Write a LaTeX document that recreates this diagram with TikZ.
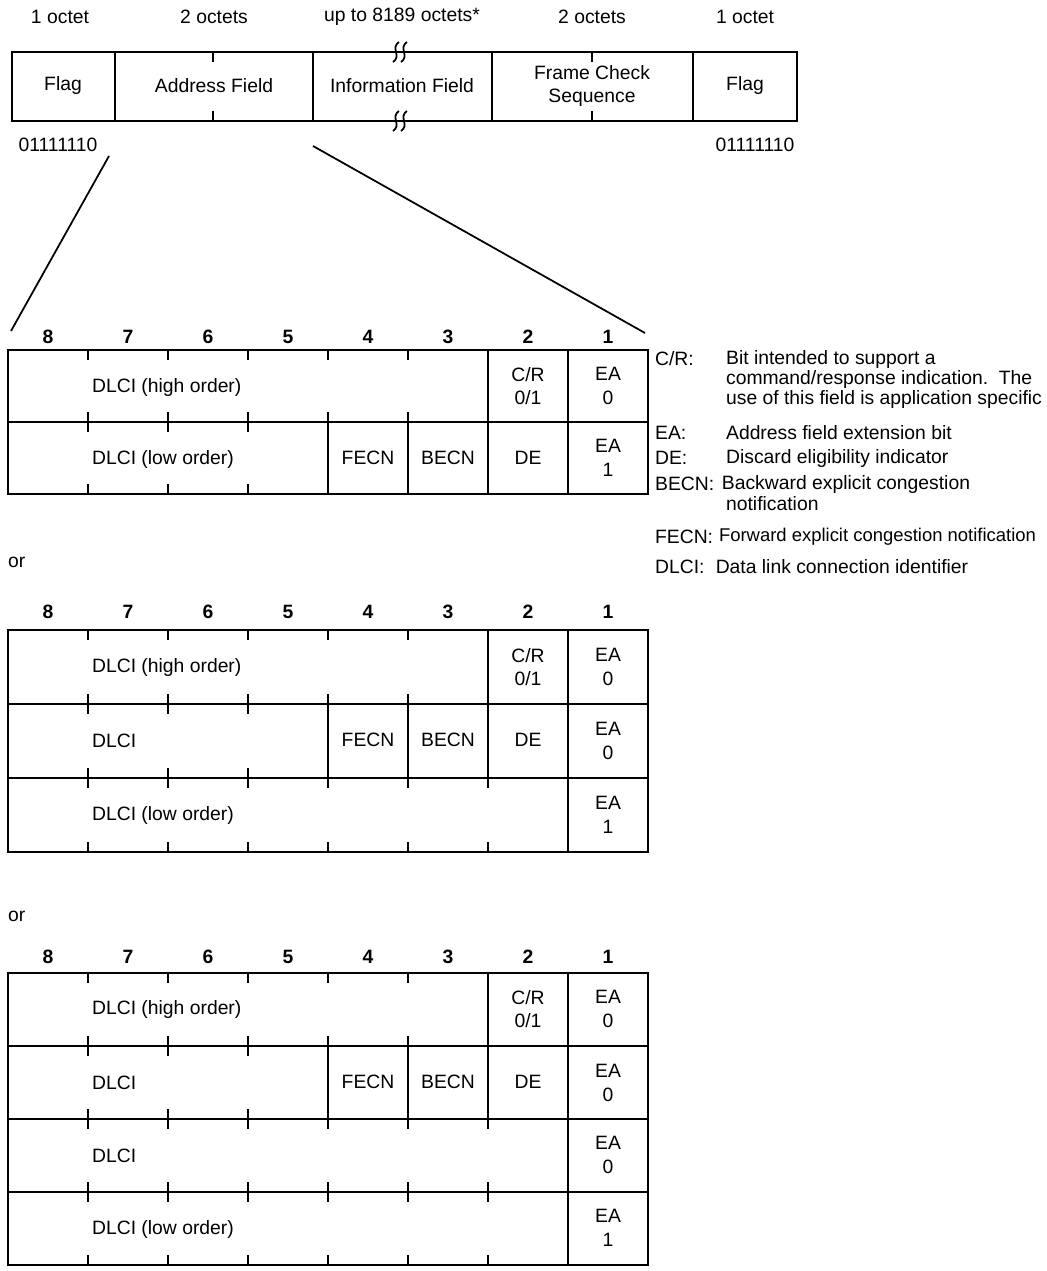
\documentclass[tikz,border=0pt]{standalone}
\usepackage{fontspec}
\setmainfont{Liberation Sans}
\usetikzlibrary{positioning,calc}

\begin{document}
\begin{tikzpicture}[x=0.02cm,y=-0.02cm,
    every node/.style={font=\fontsize{11}{13.5}\selectfont,inner sep=1pt},
    boxline/.style={line width=1.2pt},
    tickmark/.style={line width=1pt},
    bitno/.style={font=\fontsize{11}{13}\selectfont\bfseries},
    twoline/.style={align=center},
    lbl/.style={anchor=west}]
  \useasboundingbox (0,0) rectangle (1046,1271);

  % Frame format
  \node (octA) at (60,17) {1 octet};
  \node (octB) at (214,17) {2 octets};
  \node (octC) at (402,17) {up to 8189 octets*};
  \node (octD) at (592,17) {2 octets};
  \node (octE) at (745,17) {1 octet};
  \draw[boxline] (12,52) rectangle (797,121);
  \foreach \x in {115,313,492,693} \draw[boxline] (\x,52) -- (\x,121);
  \foreach \x in {213,592} {
    \draw[tickmark] (\x,52) -- ++(0,10);
    \draw[tickmark] (\x,121) -- ++(0,-10);
  }
  % break marks
  \foreach \y in {52,121} \foreach \x in {396,404}
    \draw[line width=1pt] (\x+3,\y-10) .. controls (\x-6,\y-4) and (\x+6,\y+4) .. (\x-3,\y+10);
  \node (flagA) at (63,86) {Flag};
  \node (addr) at (214,86) {Address Field};
  \node (info) at (402,86) {Information Field};
  \node[twoline] (fcs) at (592,86) {Frame Check\\Sequence};
  \node (flagB) at (745,86) {Flag};
  \node (patA) at (58,145) {01111110};
  \node (patB) at (755,145) {01111110};

  % zoom lines onto the address field
  \coordinate (zl) at (109,156);
  \coordinate (zr) at (313,146);
  \coordinate (tl) at (11,331);
  \coordinate (tr) at (645,333);
  \draw[line width=1pt] (zl) -- (tl);
  \draw[line width=1pt] (zr) -- (tr);

  % Two-octet address
  \foreach \b in {1,...,8} \node[bitno] (bA\b) at ({48+80*(8-\b)},337) {\b};
  \draw[boxline] (8,350) rectangle (648,494);
  \draw[boxline] (8,422) -- (648,422);
  \foreach \x in {488,568} \draw[boxline] (\x,350) -- (\x,422);
  \foreach \x in {328,408,488,568} \draw[boxline] (\x,422) -- (\x,494);
  \foreach \x in {88,168,248,328,408} {
    \draw[tickmark] (\x,350) -- ++(0,10);
    \draw[tickmark] (\x,422) -- ++(0,-10);
  }
  \foreach \x in {88,168,248} {
    \draw[tickmark] (\x,422) -- ++(0,10);
    \draw[tickmark] (\x,494) -- ++(0,-10);
  }
  \node[lbl] (hiA) at (90,387) {DLCI (high order)};
  \node[twoline] (crA) at (528,386) {C/R\\0/1};
  \node[twoline] (eaA1) at (608,386) {EA\\0};
  \node[lbl] (loA) at (90,459) {DLCI (low order)};
  \node (fecnA) at (368,458) {FECN};
  \node (becnA) at (448,458) {BECN};
  \node (deA) at (528,458) {DE};
  \node[twoline] (eaA2) at (608,458) {EA\\1};

  % Legend
  \node[lbl] (kCR) at (653,359) {C/R:};
  \node[lbl] (tCR1) at (724,359) {Bit intended to support a};
  \node[lbl] (tCR2) at (724,379) {command/response indication.\ \ The};
  \node[lbl] (tCR3) at (724,399) {use of this field is application specific};
  \node[lbl] (kEA) at (653,433) {EA:};
  \node[lbl] (tEA) at (724,433) {Address field extension bit};
  \node[lbl] (kDE) at (653,458) {DE:};
  \node[lbl] (tDE) at (724,458) {Discard eligibility indicator};
  \node[lbl] (kBE) at (653,484) {BECN:};
  \node[right=2pt of kBE] (tBE1) {Backward explicit congestion};
  \node[lbl] (tBE2) at (724,504) {notification};
  \node[lbl] (kFE) at (653,537) {FECN:};
  \node[right=1pt of kFE,font=\fontsize{10.5}{13}\selectfont] (tFE) {Forward explicit congestion notification};
  \node[lbl] (kDL) at (653,567) {DLCI:};
  \node[right=4pt of kDL] (tDL) {Data link connection identifier};

  % Three-octet address
  \node[lbl] (orA) at (6,562) {or};
  \foreach \b in {1,...,8} \node[bitno] (bB\b) at ({48+80*(8-\b)},612) {\b};
  \draw[boxline] (8,630) rectangle (648,852);
  \foreach \y in {704,778} \draw[boxline] (8,\y) -- (648,\y);
  \foreach \x in {488,568} \draw[boxline] (\x,630) -- (\x,704);
  \foreach \x in {328,408,488,568} \draw[boxline] (\x,704) -- (\x,778);
  \draw[boxline] (568,778) -- (568,852);
  \foreach \x in {88,168,248,328,408} {
    \draw[tickmark] (\x,630) -- ++(0,10);
    \draw[tickmark] (\x,704) -- ++(0,-10);
  }
  \foreach \x in {88,168,248} {
    \draw[tickmark] (\x,704) -- ++(0,10);
    \draw[tickmark] (\x,778) -- ++(0,-10);
  }
  \foreach \x in {88,168,248,328,408,488} {
    \draw[tickmark] (\x,778) -- ++(0,10);
    \draw[tickmark] (\x,852) -- ++(0,-10);
  }
  \node[lbl] (hiB) at (90,667) {DLCI (high order)};
  \node[twoline] (crB) at (528,667) {C/R\\0/1};
  \node[twoline] (eaB1) at (608,667) {EA\\0};
  \node[lbl] (miB) at (90,741) {DLCI};
  \node (fecnB) at (368,740) {FECN};
  \node (becnB) at (448,740) {BECN};
  \node (deB) at (528,740) {DE};
  \node[twoline] (eaB2) at (608,741) {EA\\0};
  \node[lbl] (loB) at (90,815) {DLCI (low order)};
  \node[twoline] (eaB3) at (608,815) {EA\\1};

  % Four-octet address
  \node[lbl] (orB) at (6,916) {or};
  \foreach \b in {1,...,8} \node[bitno] (bC\b) at ({48+80*(8-\b)},957) {\b};
  \draw[boxline] (8,973) rectangle (648,1265);
  \foreach \y in {1046,1119,1192} \draw[boxline] (8,\y) -- (648,\y);
  \foreach \x in {488,568} \draw[boxline] (\x,973) -- (\x,1046);
  \foreach \x in {328,408,488,568} \draw[boxline] (\x,1046) -- (\x,1119);
  \draw[boxline] (568,1119) -- (568,1265);
  \foreach \x in {88,168,248,328,408} {
    \draw[tickmark] (\x,973) -- ++(0,10);
    \draw[tickmark] (\x,1046) -- ++(0,-10);
  }
  \foreach \x in {88,168,248} {
    \draw[tickmark] (\x,1046) -- ++(0,10);
    \draw[tickmark] (\x,1119) -- ++(0,-10);
  }
  \foreach \y in {1119,1192} \foreach \x in {88,168,248,328,408,488} {
    \draw[tickmark] (\x,\y) -- ++(0,10);
    \draw[tickmark] (\x,\y+73) -- ++(0,-10);
  }
  \node[lbl] (hiC) at (90,1009) {DLCI (high order)};
  \node[twoline] (crC) at (528,1009) {C/R\\0/1};
  \node[twoline] (eaC1) at (608,1009) {EA\\0};
  \node[lbl] (miC) at (90,1083) {DLCI};
  \node (fecnC) at (368,1082) {FECN};
  \node (becnC) at (448,1082) {BECN};
  \node (deC) at (528,1082) {DE};
  \node[twoline] (eaC2) at (608,1083) {EA\\0};
  \node[lbl] (lmC) at (90,1156) {DLCI};
  \node[twoline] (eaC3) at (608,1155) {EA\\0};
  \node[lbl] (loC) at (90,1229) {DLCI (low order)};
  \node[twoline] (eaC4) at (608,1228) {EA\\1};
\end{tikzpicture}
\end{document}
